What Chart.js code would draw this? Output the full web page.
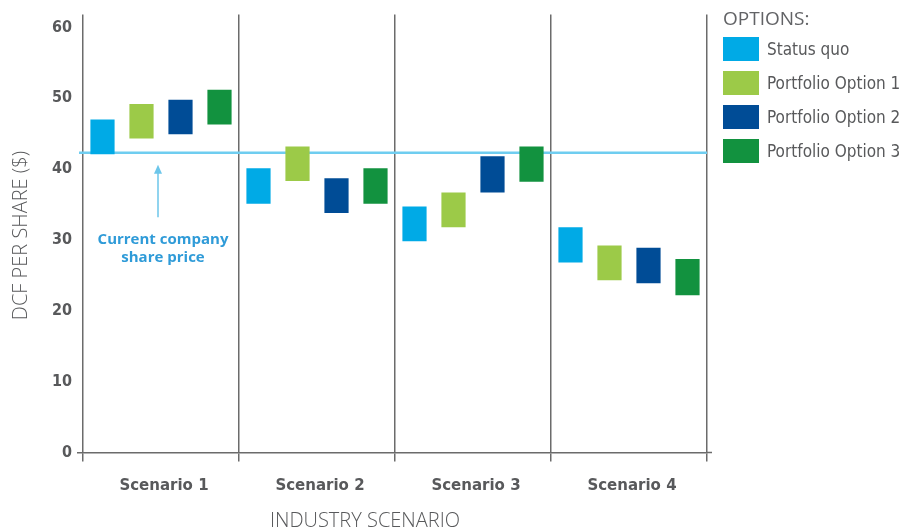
<!DOCTYPE html>
<html>
<head>
<meta charset="utf-8">
<script src="https://cdn.jsdelivr.net/npm/chart.js@4.4.1/dist/chart.umd.min.js"></script>
<style>
    body { margin: 0; background: #fff; }
    #wrap { position: relative; width: 917px; height: 532px; }
    #legend { position: absolute; left: 723px; top: 0; color: #58595b; }
    #legend .title { position: absolute; left: 0; top: 6px; font: 400 19px "Open Sans"; color: #626366; white-space: nowrap; line-height: 24px; }
    #legend .item { position: absolute; left: 0; height: 24px; white-space: nowrap; }
    #legend .box { position: absolute; left: 0; top: 0; width: 36px; height: 24px; }
    #legend .txt { position: absolute; left: 44px; top: 2px; line-height: 24px; font: 17px "DejaVu Sans Condensed"; }
</style>
</head>
<body>
<div id="wrap">
    <canvas id="chartjs_dcf" width="917" height="532"></canvas>
    <div id="legend"></div>
</div>
<script>
const scenarios = ['Scenario 1', 'Scenario 2', 'Scenario 3', 'Scenario 4'];
const optionNames = ['Status quo', 'Portfolio Option 1', 'Portfolio Option 2', 'Portfolio Option 3'];
const optionColors = ['#00aae6', '#9cca48', '#004c96', '#12923f'];

// low / high of each DCF range, one value per scenario
const statusQuoLow = [42.1, 35.1, 29.8, 26.8];
const statusQuoHigh = [47.0, 40.1, 34.7, 31.8];
const option1Low = [44.3, 38.3, 31.8, 24.3];
const option1High = [49.2, 43.2, 36.7, 29.2];
const option2Low = [44.9, 33.8, 36.7, 23.9];
const option2High = [49.8, 38.7, 41.8, 28.9];
const option3Low = [46.3, 35.1, 38.2, 22.2];
const option3High = [51.2, 40.1, 43.2, 27.3];

const yTicks = [0, 10, 20, 30, 40, 50, 60];
const sharePrice = 42.3;

const lows = [statusQuoLow, option1Low, option2Low, option3Low];
const highs = [statusQuoHigh, option1High, option2High, option3High];

function ranges(i) {
    return scenarios.map((s, j) => [lows[i][j], highs[i][j]]);
}

// legend
const legendEl = document.getElementById('legend');
legendEl.innerHTML = '<div class="title">OPTIONS:</div>';
optionNames.forEach((name, i) => {
    const item = document.createElement('div');
    item.className = 'item';
    item.style.top = (37 + 34 * i) + 'px';
    item.innerHTML = '<div class="box" style="background:' + optionColors[i] + '"></div><div class="txt">' + name + '</div>';
    legendEl.appendChild(item);
});

const gridGrey = '#6b6b6b';

const sharePriceLine = {
    id: 'sharePriceLine',
    beforeDatasetsDraw(chart) {
        const { ctx, chartArea: { left, right }, scales: { x, y } } = chart;
        const py = y.getPixelForValue(sharePrice);
        ctx.save();
        ctx.strokeStyle = '#6fcdf0';
        ctx.lineWidth = 2.5;
        ctx.beginPath();
        ctx.moveTo(left - 4, py);
        ctx.lineTo(right, py);
        ctx.stroke();
        ctx.restore();
    },
    afterDraw(chart) {
        const { ctx, chartArea: { top, bottom, left, right }, scales: { x, y } } = chart;
        ctx.save();
        // zero line runs a little past the last separator
        ctx.strokeStyle = gridGrey;
        ctx.lineWidth = 1.5;
        ctx.beginPath();
        ctx.moveTo(right, y.getPixelForValue(0));
        ctx.lineTo(right + 5, y.getPixelForValue(0));
        ctx.stroke();

        // arrow pointing at the share price line
        const ax = x.getPixelForValue(0) - 3;
        const tip = y.getPixelForValue(40.6);
        const tail = y.getPixelForValue(33.2);
        ctx.strokeStyle = '#6cc6ea';
        ctx.fillStyle = '#6cc6ea';
        ctx.lineWidth = 1.5;
        ctx.beginPath();
        ctx.moveTo(ax, tip + 6);
        ctx.lineTo(ax, tail);
        ctx.stroke();
        ctx.beginPath();
        ctx.moveTo(ax, tip);
        ctx.lineTo(ax - 4, tip + 9);
        ctx.lineTo(ax + 4, tip + 9);
        ctx.closePath();
        ctx.fill();

        ctx.fillStyle = '#2f9bd8';
        ctx.font = 'bold 15px "Open Sans"';
        ctx.textAlign = 'center';
        ctx.textBaseline = 'middle';
        const tx = x.getPixelForValue(0) + 2;
        ctx.fillText('Current company', tx, 240);
        ctx.fillText('share price', tx, 258);

        // axis titles
        ctx.fillStyle = '#58595b';
        ctx.font = '300 20px "Open Sans"';
        ctx.fillText('INDUSTRY SCENARIO', 365, 521);
        ctx.translate(21, (top + bottom) / 2 + 2);
        ctx.rotate(-Math.PI / 2);
        ctx.fillText('DCF PER SHARE ($)', 0, 0);
        ctx.restore();
    }
};

const ctx = document.getElementById('chartjs_dcf');

new Chart(ctx, {
    type: 'bar',
    data: {
        labels: scenarios,
        datasets: optionNames.map((name, i) => ({
            label: name,
            data: ranges(i),
            backgroundColor: optionColors[i],
            borderWidth: 0,
            borderSkipped: false,
            categoryPercentage: 1.0,
            barPercentage: 0.62
        }))
    },
    plugins: [sharePriceLine],
    options: {
        responsive: false,
        animation: false,
        layout: {
            padding: { top: 14, right: 210, left: 0, bottom: 0 }
        },
        scales: {
            x: {
                afterFit(scale) { scale.height = 79.5; },
                grid: {
                    offset: true,
                    color: gridGrey,
                    lineWidth: 1.5,
                    tickLength: 9
                },
                border: { display: true, color: gridGrey, width: 1.5 },
                ticks: {
                    padding: 16,
                    labelOffset: 3,
                    color: '#58595b',
                    font: { family: 'DejaVu Sans', size: 15, weight: 'bold' }
                }
            },
            y: {
                min: 0,
                max: 61.8,
                afterFit(scale) { scale.width = 83; },
                afterBuildTicks(scale) {
                    scale.ticks = yTicks.map(v => ({ value: v }));
                },
                grid: {
                    drawOnChartArea: false,
                    tickLength: 6,
                    lineWidth: 1.5,
                    color: (c) => c.tick && c.tick.value === 0 ? gridGrey : 'rgba(0,0,0,0)'
                },
                border: { display: false },
                ticks: {
                    padding: 5,
                    color: '#58595b',
                    font: { family: 'DejaVu Sans Condensed', size: 16, weight: 'bold' }
                }
            }
        },
        plugins: {
            legend: { display: false },
            tooltip: { enabled: false }
        }
    }
});
</script>
</body>
</html>
